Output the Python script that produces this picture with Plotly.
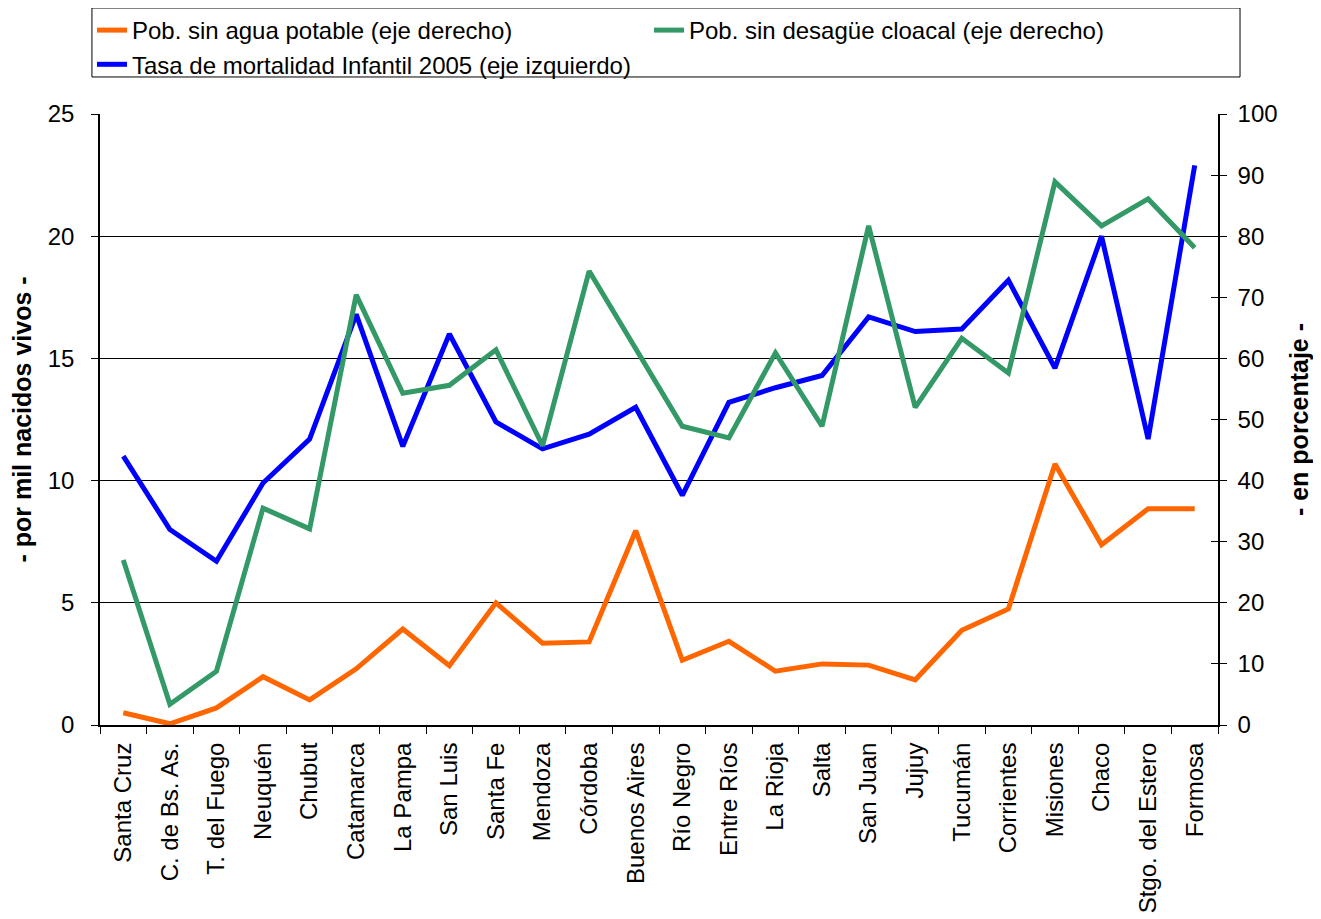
import plotly.graph_objects as go

provincias = ["Santa Cruz", "C. de Bs. As.", "T. del Fuego", "Neuquén", "Chubut",
              "Catamarca", "La Pampa", "San Luis", "Santa Fe", "Mendoza", "Córdoba",
              "Buenos Aires", "Río Negro", "Entre Ríos", "La Rioja", "Salta", "San Juan",
              "Jujuy", "Tucumán", "Corrientes", "Misiones", "Chaco", "Stgo. del Estero",
              "Formosa"]

# % (eje derecho)
sin_agua = [2.0, 0.2, 2.8, 7.9, 4.1, 9.2, 15.7, 9.7, 20.0, 13.4, 13.6, 31.8,
            10.6, 13.7, 8.8, 10.0, 9.8, 7.4, 15.5, 19.0, 42.7, 29.5, 35.4, 35.4]
sin_cloaca = [27.0, 3.4, 8.8, 35.5, 32.1, 70.4, 54.3, 55.6, 61.4, 45.7, 74.3, 61.5,
              48.9, 47.0, 60.9, 48.9, 81.7, 52.0, 63.3, 57.6, 88.9, 81.7, 86.1, 78.1]
# por mil nacidos vivos (eje izquierdo)
mortalidad = [11.0, 8.0, 6.7, 9.9, 11.7, 16.8, 11.4, 16.0, 12.4, 11.3, 11.9, 13.0,
              9.4, 13.2, 13.8, 14.3, 16.7, 16.1, 16.2, 18.2, 14.6, 20.0, 11.7, 22.9]

fuente = "Liberation Sans, Arial, sans-serif"
W, H = 1313, 911  # la página agrega 8px de margen

fig = go.Figure()
fig.add_trace(go.Scatter(x=provincias, y=sin_agua, mode="lines", yaxis="y2",
                         name="Pob. sin agua potable (eje derecho)",
                         line=dict(color="#FF6600", width=5)))
fig.add_trace(go.Scatter(x=provincias, y=sin_cloaca, mode="lines", yaxis="y2",
                         name="Pob. sin desagüe cloacal (eje derecho)",
                         line=dict(color="#339966", width=5)))
fig.add_trace(go.Scatter(x=provincias, y=mortalidad, mode="lines",
                         name="Tasa de mortalidad Infantil 2005 (eje izquierdo)",
                         line=dict(color="#0000FF", width=5)))
fig.add_trace(go.Scatter(x=[provincias[0]], y=[None], yaxis="y3", showlegend=False,
                         hoverinfo="skip"))

fig.update_layout(
    width=W, height=H,
    margin=dict(l=92, r=103, t=106, b=194),
    paper_bgcolor="white", plot_bgcolor="white",
    font=dict(family=fuente, size=24, color="black"),
    showlegend=True,
    legend=dict(orientation="h", xref="container", yref="container",
                x=84 / W, y=1, xanchor="left", yanchor="top",
                borderwidth=0, bgcolor="rgba(0,0,0,0)",
                entrywidth=512, entrywidthmode="pixels", traceorder="normal",
                font=dict(size=24), tracegroupgap=0),
    xaxis=dict(type="category", range=[-0.5, 23.5], tickangle=-90, automargin=False,
               tickson="boundaries", ticks="outside", ticklen=7, tickcolor="black",
               showline=True, linecolor="black", linewidth=2, showgrid=False,
               ticklabelstandoff=6, tickfont=dict(size=24)),
    yaxis=dict(range=[0, 25], dtick=5, ticks="outside", ticklen=7, tickcolor="black",
               showline=True, linecolor="black", linewidth=1.5, automargin=False,
               showgrid=True, gridcolor="black", gridwidth=1, zeroline=False,
               ticklabelstandoff=12, tickfont=dict(size=24),
               title=dict(text="<b>- por mil nacidos vivos -</b>", standoff=22,
                          font=dict(size=25))),
    yaxis2=dict(range=[0, 100], dtick=10, overlaying="y", side="right",
                ticks="outside", ticklen=7, tickcolor="black", automargin=False,
                showline=True, linecolor="black", linewidth=1.5,
                showgrid=False, zeroline=False, ticklabelstandoff=6,
                tickfont=dict(size=24),
                title=dict(text="<b>- en porcentaje -</b>", standoff=14,
                           font=dict(size=25))),
    # marcas interiores del eje derecho (tick cruzado)
    yaxis3=dict(range=[0, 100], dtick=10, overlaying="y", side="right",
                ticks="inside", ticklen=7, tickcolor="black", showticklabels=False,
                showline=False, showgrid=False, zeroline=False, automargin=False),
)

# marco de la leyenda
fig.add_shape(type="rect", xref="paper", yref="paper",
              x0=-0.0072, x1=1.0197, y0=1.0606, y1=1.1735,
              line=dict(color="black", width=1), fillcolor="rgba(0,0,0,0)")

fig.write_html("out.html")
